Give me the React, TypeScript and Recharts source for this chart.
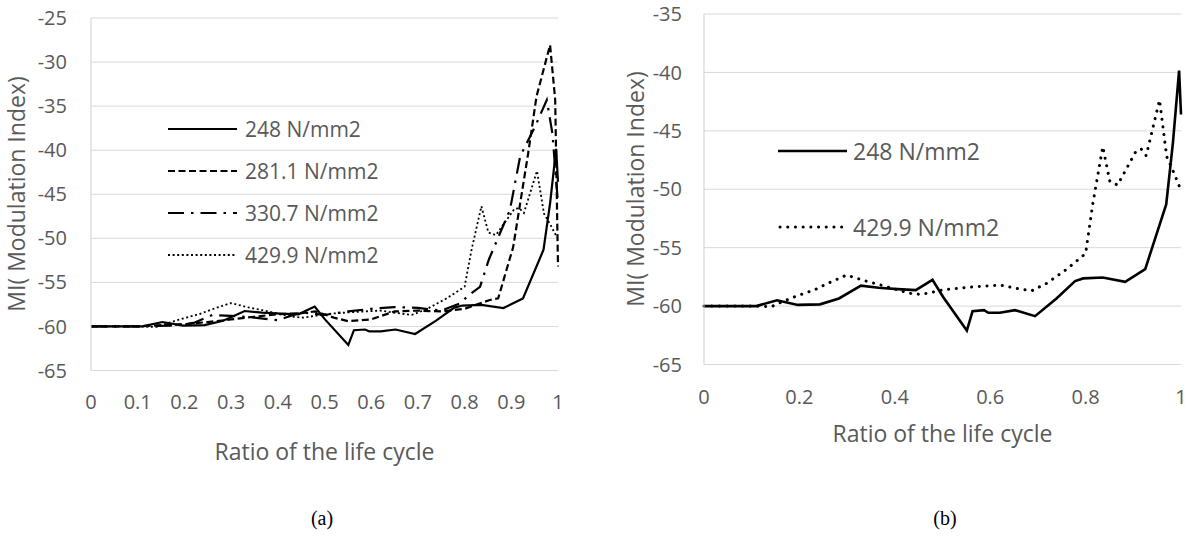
import React from 'react';
import { LineChart, Line, XAxis, YAxis, CartesianGrid, Legend } from 'recharts';

// ---------- data ----------
const ratio248 = [0, 0.05, 0.11, 0.153, 0.197, 0.243, 0.283, 0.329, 0.366, 0.406, 0.444, 0.479, 0.501, 0.551, 0.563, 0.587, 0.596, 0.62, 0.652, 0.694, 0.739, 0.778, 0.795, 0.836, 0.883, 0.925, 0.969, 0.983, 0.996, 1.0];
const mi248 = [-60, -60, -60, -59.5, -59.9, -59.85, -59.35, -58.25, -58.43, -58.55, -58.63, -57.75, -59.2, -62.1, -60.43, -60.35, -60.57, -60.57, -60.35, -60.86, -59.35, -57.86, -57.63, -57.55, -57.92, -56.83, -51.3, -46.05, -39.85, -43.6];

const ratio281 = [0, 0.1, 0.15, 0.2, 0.25, 0.3, 0.35, 0.4, 0.45, 0.48, 0.52, 0.55, 0.6, 0.65, 0.7, 0.75, 0.8, 0.854, 0.872, 0.904, 0.936, 0.954, 0.983, 0.994, 1.0];
const mi281 = [-60, -60, -59.85, -59.75, -59.5, -59.2, -58.9, -58.6, -58.5, -58.3, -59.0, -59.4, -59.2, -58.3, -58.2, -58.3, -58.0, -57.0, -56.8, -51.0, -40.4, -33.9, -28.06, -34.3, -53.2];

const ratio330 = [0, 0.1, 0.17, 0.22, 0.26, 0.3, 0.35, 0.4, 0.45, 0.5, 0.55, 0.6, 0.65, 0.7, 0.75, 0.79, 0.81, 0.833, 0.852, 0.876, 0.897, 0.919, 0.951, 0.976, 0.988, 1.0];
const mi330 = [-60, -60, -59.9, -59.6, -58.7, -58.8, -59.0, -59.3, -58.4, -58.7, -58.3, -58.0, -57.8, -57.9, -58.2, -57.4, -56.4, -55.5, -52.4, -49.4, -46.8, -40.7, -37.3, -34.3, -38.1, -46];

const ratio429 = [0, 0.05, 0.1, 0.141, 0.16, 0.19, 0.232, 0.265, 0.299, 0.337, 0.384, 0.43, 0.455, 0.48, 0.503, 0.55, 0.62, 0.656, 0.687, 0.718, 0.76, 0.8, 0.815, 0.836, 0.851, 0.867, 0.907, 0.917, 0.927, 0.955, 0.959, 0.97, 0.984, 0.997];
const mi429 = [-60, -60, -60, -60.05, -59.7, -59.2, -58.6, -57.95, -57.35, -57.83, -58.35, -58.9, -59.0, -58.8, -58.6, -58.4, -58.2, -58.49, -58.69, -58.06, -56.86, -55.5, -51.27, -46.36, -49.35, -49.64, -46.64, -46.58, -47.13, -42.36, -43.65, -47.2, -48.5, -49.8];

const xTicksA = [0, 0.1, 0.2, 0.3, 0.4, 0.5, 0.6, 0.7, 0.8, 0.9, 1];
const yTicksA = [-65, -60, -55, -50, -45, -40, -35, -30, -25];
const xTicksB = [0, 0.2, 0.4, 0.6, 0.8, 1];
const yTicksB = [-65, -60, -55, -50, -45, -40, -35];

const name248 = '248 N/mm2';
const name281 = '281.1 N/mm2';
const name330 = '330.7 N/mm2';
const name429 = '429.9 N/mm2';

const xTitle = 'Ratio of the life cycle';
const yTitle = 'MI( Modulation Index)';

// ---------- helpers ----------
const zip = (xs: number[], ys: number[]) => xs.map((r, i) => ({ r, v: ys[i] }));

const FONT = '"Open Sans", sans-serif';
const GRAY = '#595959';
const GRID = '#d9d9d9';

type Sty = { strokeWidth: number; strokeDasharray?: string; strokeLinecap?: 'round' | 'butt' | 'square' };

const solidA: Sty = { strokeWidth: 2.2 };
const dashedA: Sty = { strokeWidth: 2.2, strokeDasharray: '7 3.5' };
const dashDotA: Sty = { strokeWidth: 2.2, strokeDasharray: '16 7 2.5 7' };
const dottedA: Sty = { strokeWidth: 1.8, strokeDasharray: '2 2.6' };
const solidB: Sty = { strokeWidth: 2.6 };
const dottedB: Sty = { strokeWidth: 3, strokeDasharray: '0.1 7.6', strokeLinecap: 'round' };

type Item = { name: string; sty: Sty };

const LegendBox = ({ items, lineW, gap, rowH, fontSize }: { items: Item[]; lineW: number; gap: number; rowH: number; fontSize: number }) => (
  <div style={{ fontFamily: FONT, fontSize, color: GRAY }}>
    {items.map((it) => (
      <div key={it.name} style={{ height: rowH, display: 'flex', alignItems: 'center' }}>
        <svg width={lineW} height={10} style={{ display: 'block' }}>
          <line
            x1={it.sty.strokeLinecap === 'round' ? 2 : 0}
            y1={5}
            x2={lineW}
            y2={5}
            stroke="#000"
            strokeWidth={it.sty.strokeWidth}
            strokeDasharray={it.sty.strokeDasharray}
            strokeLinecap={it.sty.strokeLinecap || 'butt'}
          />
        </svg>
        <span style={{ marginLeft: gap, lineHeight: 1, whiteSpace: 'nowrap' }}>{it.name}</span>
      </div>
    ))}
  </div>
);

const TextAt = ({ x, y, text, size, rotate, serif, color }: { x: number; y: number; text: string; size: number; rotate?: boolean; serif?: boolean; color?: string }) => (
  <div
    style={{
      position: 'absolute',
      left: x,
      top: y,
      transform: `translate(-50%, -50%)${rotate ? ' rotate(-90deg)' : ''}`,
      whiteSpace: 'nowrap',
      fontFamily: serif ? '"Liberation Serif", "Times New Roman", serif' : FONT,
      fontSize: size,
      color: color || GRAY,
      lineHeight: 1,
    }}
  >
    {text}
  </div>
);

const tickStyle = { fill: GRAY, fontSize: 20, fontFamily: FONT };

export default function App() {
  const itemsA: Item[] = [
    { name: name248, sty: solidA },
    { name: name281, sty: dashedA },
    { name: name330, sty: dashDotA },
    { name: name429, sty: dottedA },
  ];
  const itemsB: Item[] = [
    { name: name248, sty: solidB },
    { name: name429, sty: dottedB },
  ];

  return (
    <div style={{ position: 'absolute', left: 0, top: 0, width: 1188, height: 541, background: '#fff', overflow: 'hidden' }}>
      {/* Chart (a) */}
      <div style={{ position: 'absolute', left: 0, top: 0 }}>
        <LineChart width={580} height={470} margin={{ top: 18, right: 22, bottom: 69.5, left: 31 }}>
          <CartesianGrid vertical={false} stroke={GRID} strokeWidth={1} />
          <XAxis
            type="number"
            dataKey="r"
            domain={[0, 1]}
            ticks={xTicksA}
            interval={0}
            tickLine={false}
            tickSize={0}
            tickMargin={24.5}
            axisLine={{ stroke: GRID }}
            tick={tickStyle}
            height={30}
          />
          <YAxis
            type="number"
            domain={[-65, -25]}
            ticks={yTicksA}
            interval={0}
            tickLine={false}
            tickSize={0}
            tickMargin={24}
            axisLine={{ stroke: '#cfcfcf' }}
            tick={tickStyle}
            width={60}
          />
          <Legend
            layout="vertical"
            align="center"
            verticalAlign="middle"
            wrapperStyle={{ left: 168, top: 108, width: 260 }}
            content={() => <LegendBox items={itemsA} lineW={69} gap={8} rowH={42} fontSize={21} />}
          />
          <Line data={zip(ratio248, mi248)} dataKey="v" name={name248} type="linear" stroke="#000" {...solidA} dot={false} activeDot={false} isAnimationActive={false} />
          <Line data={zip(ratio281, mi281)} dataKey="v" name={name281} type="linear" stroke="#000" {...dashedA} dot={false} activeDot={false} isAnimationActive={false} />
          <Line data={zip(ratio330, mi330)} dataKey="v" name={name330} type="linear" stroke="#000" {...dashDotA} dot={false} activeDot={false} isAnimationActive={false} />
          <Line data={zip(ratio429, mi429)} dataKey="v" name={name429} type="linear" stroke="#000" {...dottedA} dot={false} activeDot={false} isAnimationActive={false} />
        </LineChart>
      </div>

      {/* Chart (b) */}
      <div style={{ position: 'absolute', left: 600, top: 0 }}>
        <LineChart width={588} height={470} margin={{ top: 14, right: 7, bottom: 75.5, left: 44 }}>
          <CartesianGrid vertical={false} stroke={GRID} strokeWidth={1} />
          <XAxis
            type="number"
            dataKey="r"
            domain={[0, 1]}
            ticks={xTicksB}
            interval={0}
            tickLine={false}
            tickSize={0}
            tickMargin={25.5}
            axisLine={{ stroke: GRID }}
            tick={tickStyle}
            height={30}
          />
          <YAxis
            type="number"
            domain={[-65, -35]}
            ticks={yTicksB}
            interval={0}
            tickLine={false}
            tickSize={0}
            tickMargin={22}
            axisLine={{ stroke: '#cfcfcf' }}
            tick={tickStyle}
            width={60}
          />
          <Legend
            layout="vertical"
            align="center"
            verticalAlign="middle"
            wrapperStyle={{ left: 178, top: 113, width: 300 }}
            content={() => <LegendBox items={itemsB} lineW={69} gap={6} rowH={76} fontSize={23} />}
          />
          <Line data={zip(ratio248, mi248)} dataKey="v" name={name248} type="linear" stroke="#000" {...solidB} dot={false} activeDot={false} isAnimationActive={false} />
          <Line data={zip(ratio429, mi429)} dataKey="v" name={name429} type="linear" stroke="#000" {...dottedB} dot={false} activeDot={false} isAnimationActive={false} />
        </LineChart>
      </div>

      {/* Axis titles and captions */}
      <TextAt x={16} y={194} text={yTitle} size={23} rotate />
      <TextAt x={324.5} y={451} text={xTitle} size={23} />
      <TextAt x={635} y={189} text={yTitle} size={23} rotate />
      <TextAt x={942.5} y={433} text={xTitle} size={23} />
      <TextAt x={322} y={518} text="(a)" size={20} serif color="#000" />
      <TextAt x={945} y={518} text="(b)" size={20} serif color="#000" />
    </div>
  );
}
